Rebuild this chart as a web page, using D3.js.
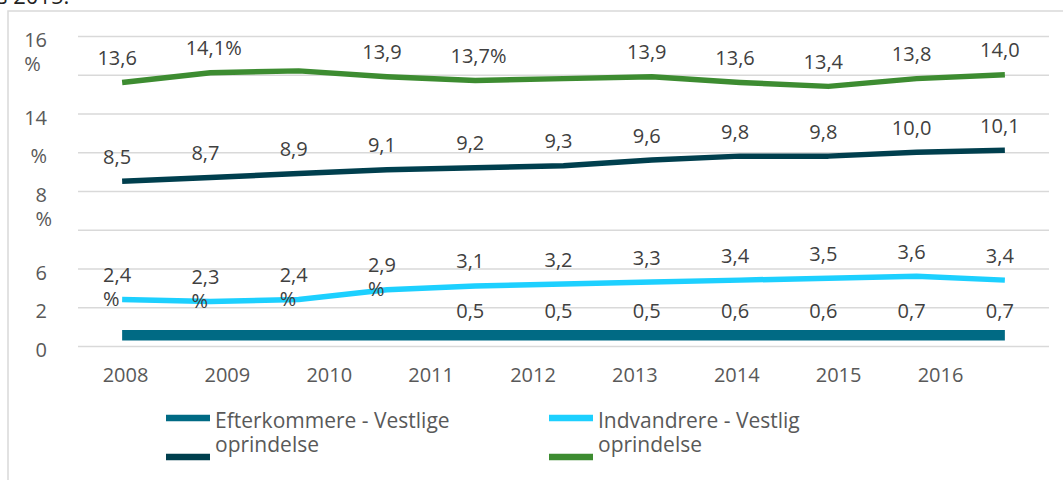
<!DOCTYPE html>
<html>
<head>
<meta charset="utf-8">
<script src="https://cdn.jsdelivr.net/npm/d3@7/dist/d3.min.js"></script>
<style>
  body { margin: 0; background: #fff; }
  svg { font-family: "Open Sans", sans-serif; display: block; }
</style>
</head>
<body>
<div id="chart"></div>
<script>
// tick labels as they appear in the picture ("\n" = wrapped line)
const xLabels = ["2008", "2009", "2010", "2011", "2012", "2013", "2014", "2015", "2016"];
const yTicks = [0, 2, 4, 6, 8, 10, 12, 14, 16];
const yTickLabels = ["0", "2", "6", "", "8\n%", "%", "14", "", "16\n%"];

const legendNames = ["Efterkommere - Vestlige\noprindelse", "Indvandrere - Vestlig\noprindelse", "", ""];

// plotted values, 11 points per series
const efterkommereVestlig = [0.55, 0.55, 0.55, 0.55, 0.55, 0.55, 0.55, 0.55, 0.55, 0.55, 0.55];
const indvandrereVestlig = [2.4, 2.3, 2.4, 2.9, 3.1, 3.2, 3.3, 3.4, 3.5, 3.6, 3.4];
const serie3 = [8.5, 8.7, 8.9, 9.1, 9.2, 9.3, 9.6, 9.8, 9.8, 10.0, 10.1];
const serie4 = [13.6, 14.1, 14.2, 13.9, 13.7, 13.8, 13.9, 13.6, 13.4, 13.8, 14.0];

// data labels as printed
const labels1 = ["", "", "", "", "0,5", "0,5", "0,5", "0,6", "0,6", "0,7", "0,7"];
const labels2 = ["2,4\n%", "2,3\n%", "2,4\n%", "2,9\n%", "3,1", "3,2", "3,3", "3,4", "3,5", "3,6", "3,4"];
const labels3 = ["8,5", "8,7", "8,9", "9,1", "9,2", "9,3", "9,6", "9,8", "9,8", "10,0", "10,1"];
const labels4 = ["13,6", "14,1%", "", "13,9", "13,7%", "", "13,9", "13,6", "13,4", "13,8", "14,0"];

const series = [
  { values: efterkommereVestlig, labels: labels1, color: "#006a84", width: 10.5 },
  { values: indvandrereVestlig, labels: labels2, color: "#1dd0ff", width: 5.5 },
  { values: serie3, labels: labels3, color: "#003f4e", width: 5.5 },
  { values: serie4, labels: labels4, color: "#3d8c31", width: 5.5 }
];

const W = 1063, H = 480;
const plotLeft = 78, plotRight = 1049, plotTop = 36, plotBottom = 346;

const svg = d3.select("#chart").append("svg")
  .attr("width", W)
  .attr("height", H);

svg.append("rect").attr("width", W).attr("height", H).attr("fill", "#fff");

// cut off caption line of the page above
svg.append("text")
  .attr("x", -3).attr("y", 4)
  .attr("font-size", 22)
  .attr("fill", "#222")
  .text("s 2015.");

// chart frame
svg.append("rect")
  .attr("x", 8).attr("y", 11)
  .attr("width", W + 20).attr("height", H + 20)
  .attr("fill", "none")
  .attr("stroke", "#d9d9d9")
  .attr("stroke-width", 1.5);

const x = d3.scalePoint().domain(d3.range(serie4.length)).range([plotLeft, plotRight]).padding(0.5);
const xLab = d3.scalePoint().domain(xLabels).range([125, 940]);
const y = d3.scaleLinear().domain([0, 16]).range([plotBottom, plotTop]);

// y axis + gridlines
const yAxis = svg.append("g")
  .attr("transform", "translate(" + plotLeft + ",0)")
  .call(d3.axisLeft(y).tickValues(yTicks).tickSize(-(plotRight - plotLeft)).tickPadding(31)
    .tickFormat((d, i) => yTickLabels[i]));
yAxis.select(".domain").remove();
yAxis.selectAll(".tick line").attr("stroke", "#d9d9d9").attr("stroke-width", 1.4);
yAxis.selectAll(".tick text")
  .attr("font-size", 20)
  .attr("font-family", "Open Sans")
  .attr("fill", "#595959")
  .attr("dy", "0.53em")
  .each(function (d, i) {
    const lines = yTickLabels[i].split("\n");
    const t = d3.select(this);
    t.text(null);
    const first = t.append("tspan").text(lines[0]);
    const w = first.node().getComputedTextLength();
    const x0 = +t.attr("x") - w;
    lines.slice(1).forEach(ln => {
      t.append("tspan")
        .attr("x", x0)
        .attr("dy", 24)
        .attr("text-anchor", "start")
        .text(ln);
    });
  });

// x axis labels
const xAxis = svg.append("g")
  .attr("transform", "translate(0," + plotBottom + ")")
  .call(d3.axisBottom(xLab).tickSize(0).tickPadding(21.5));
xAxis.select(".domain").remove();
xAxis.selectAll(".tick text")
  .attr("font-size", 20)
  .attr("font-family", "Open Sans")
  .attr("fill", "#595959");

// lines
const line = d3.line().x((d, i) => x(i)).y(d => y(d));

series.forEach(s => {
  svg.append("path")
    .datum(s.values)
    .attr("d", line)
    .attr("fill", "none")
    .attr("stroke", s.color)
    .attr("stroke-width", s.width)
    .attr("stroke-linejoin", "round");
});

// data labels: number part centered a bit left of the point, "%" trails or wraps
series.forEach(s => {
  s.values.forEach((v, i) => {
    const lab = s.labels[i];
    if (!lab) return;
    const lines = lab.split("\n");
    const m = lines[0].match(/^[\d,]+/);
    const num = m ? m[0] : lines[0];
    const rest = lines[0].slice(num.length);
    const t = svg.append("text")
      .attr("font-size", 20)
      .attr("fill", "#404040")
      .attr("y", y(v) - 17.5);
    const n = t.append("tspan").text(num);
    const w = n.node().getComputedTextLength();
    const x0 = x(i) - 5 - w / 2;
    n.attr("x", x0);
    if (rest) t.append("tspan").text(rest);
    lines.slice(1).forEach(ln => {
      t.append("tspan").attr("x", x0).attr("dy", 24).text(ln);
    });
  });
});

// legend
const legendPos = [[166, 418], [549, 418], [166, 457], [549, 457]];
series.forEach((s, i) => {
  const [lx, ly] = legendPos[i];
  svg.append("line")
    .attr("x1", lx).attr("x2", lx + 44)
    .attr("y1", ly).attr("y2", ly)
    .attr("stroke", s.color)
    .attr("stroke-width", 6.5);
  if (legendNames[i]) {
    const t = svg.append("text")
      .attr("font-size", 21)
      .attr("fill", "#595959")
      .attr("x", lx + 49)
      .attr("y", ly + 10);
    legendNames[i].split("\n").forEach((ln, k) => {
      t.append("tspan").attr("x", lx + 49).attr("dy", k ? 24 : 0).text(ln);
    });
  }
});
</script>
</body>
</html>
